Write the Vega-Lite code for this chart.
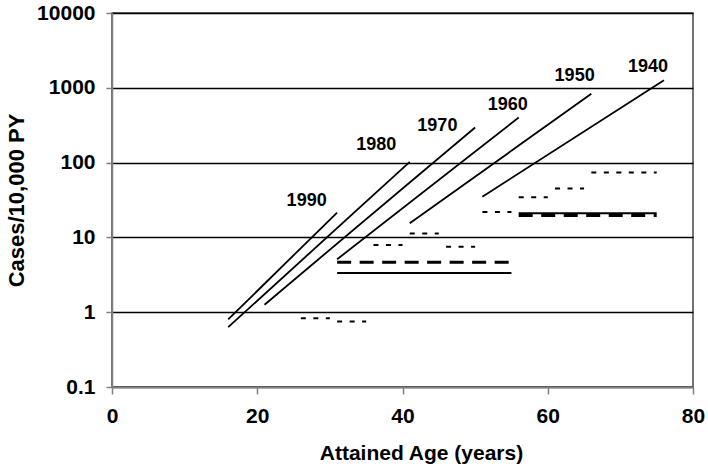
{
  "$schema": "https://vega.github.io/schema/vega-lite/v6.json",
  "autosize": "none",
  "width": 581,
  "height": 374,
  "padding": {"left": 112, "top": 13, "right": 15, "bottom": 82},
  "background": "white",
  "config": {
    "view": {"stroke": "#444444", "strokeWidth": 1.5},
    "font": "Liberation Sans",
    "axis": {
      "labelFont": "Liberation Sans",
      "titleFont": "Liberation Sans",
      "labelFontWeight": "bold",
      "titleFontWeight": "bold",
      "labelColor": "black",
      "titleColor": "black",
      "labelFontSize": 21,
      "titleFontSize": 21,
      "domainColor": "#808080",
      "domainWidth": 1.5,
      "tickColor": "#808080",
      "tickWidth": 1.5
    }
  },
  "datasets": {
    "segments": [
      {"seg": "1990", "type": "cohort", "age": 16, "rate": 0.80},
      {"seg": "1990", "type": "cohort", "age": 31, "rate": 21.5},
      {"seg": "1980", "type": "cohort", "age": 16, "rate": 0.63},
      {"seg": "1980", "type": "cohort", "age": 41, "rate": 102},
      {"seg": "1970", "type": "cohort", "age": 21, "rate": 1.26},
      {"seg": "1970", "type": "cohort", "age": 50, "rate": 295},
      {"seg": "1960", "type": "cohort", "age": 31, "rate": 5.1},
      {"seg": "1960", "type": "cohort", "age": 56, "rate": 400},
      {"seg": "1950", "type": "cohort", "age": 41, "rate": 15.5},
      {"seg": "1950", "type": "cohort", "age": 66, "rate": 830},
      {"seg": "1940", "type": "cohort", "age": 51, "rate": 35},
      {"seg": "1940", "type": "cohort", "age": 76, "rate": 1260},
      {"seg": "d1", "type": "dotted", "age": 26, "rate": 0.83},
      {"seg": "d1", "type": "dotted", "age": 30, "rate": 0.83},
      {"seg": "d2", "type": "dotted", "age": 31, "rate": 0.75},
      {"seg": "d2", "type": "dotted", "age": 35, "rate": 0.75},
      {"seg": "d3", "type": "dotted", "age": 36, "rate": 7.9},
      {"seg": "d3", "type": "dotted", "age": 40, "rate": 7.9},
      {"seg": "d4", "type": "dotted", "age": 41, "rate": 11.3},
      {"seg": "d4", "type": "dotted", "age": 45, "rate": 11.3},
      {"seg": "d5", "type": "dotted", "age": 46, "rate": 7.5},
      {"seg": "d5", "type": "dotted", "age": 50, "rate": 7.5},
      {"seg": "d6", "type": "dotted", "age": 51, "rate": 21.8},
      {"seg": "d6", "type": "dotted", "age": 55, "rate": 21.8},
      {"seg": "d7", "type": "dotted", "age": 56, "rate": 34.5},
      {"seg": "d7", "type": "dotted", "age": 60, "rate": 34.5},
      {"seg": "d8", "type": "dotted", "age": 61, "rate": 45},
      {"seg": "d8", "type": "dotted", "age": 65, "rate": 45},
      {"seg": "d9", "type": "dotted", "age": 66, "rate": 74},
      {"seg": "d9", "type": "dotted", "age": 75, "rate": 74},
      {"seg": "a1", "type": "dashed", "age": 31, "rate": 4.65},
      {"seg": "a1", "type": "dashed", "age": 55, "rate": 4.65},
      {"seg": "a2", "type": "dashed", "age": 56, "rate": 19.6},
      {"seg": "a2", "type": "dashed", "age": 75, "rate": 19.6},
      {"seg": "s1", "type": "flat", "age": 31, "rate": 3.35},
      {"seg": "s1", "type": "flat", "age": 55, "rate": 3.35},
      {"seg": "s2", "type": "flat", "age": 56, "rate": 21.0},
      {"seg": "s2", "type": "flat", "age": 75, "rate": 21.0}
    ],
    "labels": [
      {"label": "1990", "age": 26.8, "rate": 31},
      {"label": "1980", "age": 36.4, "rate": 170},
      {"label": "1970", "age": 44.8, "rate": 311},
      {"label": "1960", "age": 54.5, "rate": 592},
      {"label": "1950", "age": 63.7, "rate": 1455},
      {"label": "1940", "age": 73.8, "rate": 1906}
    ]
  },
  "encoding": {
    "x": {
      "field": "age", "type": "quantitative",
      "scale": {"domain": [0, 80], "nice": false, "zero": false},
      "axis": {
        "title": "Attained Age (years)",
        "values": [0, 20, 40, 60, 80],
        "grid": false,
        "tickSize": 7,
        "labelPadding": 11,
        "labelFlush": false,
        "titleX": 309,
        "titleY": 72,
        "titleAnchor": null,
        "titleAlign": "center",
        "titleBaseline": "alphabetic"
      }
    },
    "y": {
      "field": "rate", "type": "quantitative",
      "scale": {"type": "log", "domain": [0.1, 10000], "nice": false},
      "axis": {
        "title": "Cases/10,000 PY",
        "titleFontSize": 22,
        "values": [0.1, 1, 10, 100, 1000, 10000],
        "format": "~g",
        "grid": true,
        "gridColor": "black",
        "gridWidth": 1.3,
        "gridOpacity": 1,
        "tickSize": 6,
        "labelPadding": 11,
        "labelFlush": false,
        "titleX": -96,
        "titleY": 187,
        "titleAngle": -90,
        "titleAlign": "center",
        "titleBaseline": "middle"
      }
    }
  },
  "layer": [
    {
      "data": {"name": "segments"},
      "transform": [{"filter": "datum.type === 'cohort'"}],
      "mark": {"type": "line", "color": "black", "strokeWidth": 1.8},
      "encoding": {"detail": {"field": "seg"}}
    },
    {
      "data": {"name": "segments"},
      "transform": [{"filter": "datum.type === 'dotted'"}],
      "mark": {"type": "line", "color": "black", "strokeWidth": 2, "strokeDash": [5, 7.5]},
      "encoding": {"detail": {"field": "seg"}}
    },
    {
      "data": {"name": "segments"},
      "transform": [{"filter": "datum.type === 'dashed'"}],
      "mark": {"type": "line", "color": "black", "strokeWidth": 3, "strokeDash": [14, 8.5]},
      "encoding": {"detail": {"field": "seg"}}
    },
    {
      "data": {"name": "segments"},
      "transform": [{"filter": "datum.type === 'flat'"}],
      "mark": {"type": "line", "color": "black", "strokeWidth": 2},
      "encoding": {"detail": {"field": "seg"}}
    },
    {
      "data": {"name": "labels"},
      "mark": {"type": "text", "font": "Liberation Sans", "fontWeight": "bold", "fontSize": 18, "align": "center", "baseline": "middle", "color": "black"},
      "encoding": {"text": {"field": "label"}}
    }
  ]
}
